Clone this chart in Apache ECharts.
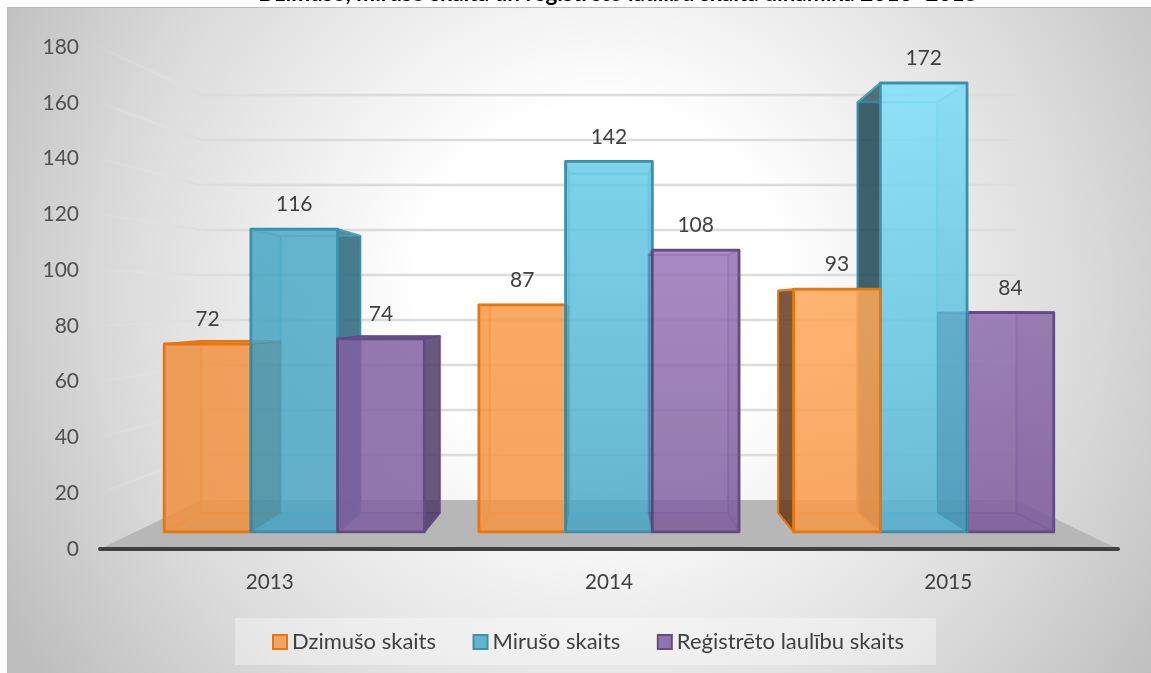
<!DOCTYPE html>
<html><head><meta charset="utf-8">
<style>html,body{margin:0;padding:0;background:#fff}#c{width:1151px;height:673px}</style>
<script src="https://cdn.jsdelivr.net/npm/echarts@6/dist/echarts.min.js"></script>
</head><body><div id="c"></div>
<script>
const titleText = 'Dzimušo, mirušo skaita un reģistrēto laulību skaita dinamika 2013–2015';
const years = ['2013','2014','2015'];
const births = [72,87,93];
const deaths = [116,142,172];
const marriages = [74,108,84];
const yTicks = [20,40,60,80,100,120,140,160,180];
const seriesNames = ['Dzimušo skaits','Mirušo skaits','Reģistrēto laulību skaits'];

const FONT = 'Lato';
const VX = 608.5;
const FRONT = {sx:.9275, sy:.936, ty:18.1};
const BACK  = {sx:.850,  sy:.8564, ty:42.8};
const WALL  = {sx:.8006, sy:.8068, ty:57.1};
const BAR_SHARE = 0.2755;
const RANK = [[1,2,3],[1,2,3],[3,2,1]];

const styles = [
 {line:'#E8760F', legend:'#F5A562', darkL:'rgba(100,60,30,.85)', darkR:null, top:'rgba(228,108,10,.75)', side:'rgba(120,60,0,.10)', over:'rgba(60,40,0,.13)',
  grad:[['#F3A35E','#F3A35E'],['#F9A963','#F6A560'],['#FEB572','#F9A862']]},
 {line:'#3D90A8', legend:'#62B3CC', darkL:'rgba(30,70,85,.85)', darkR:'rgba(50,110,130,.9)', top:'rgba(49,133,156,.7)', side:'rgba(0,50,70,.12)', over:null,
  grad:[['#66B6D0','#63B2CC'],['#7DD4EB','#65B3CD'],['#91E4FB','#6CBCD7']]},
 {line:'#634B85', legend:'#8F74AD', darkL:null, darkR:'rgba(80,60,105,.85)', top:'rgba(96,74,123,.8)', side:'rgba(50,20,80,.14)', over:'rgba(0,50,90,.17)',
  grad:[['#9379AF','#9278AD'],['#A88CC1','#9076AA'],['#9F84B9','#9074AA']]}
];

function P(c, off, pl){ return [VX + (c[0]+off-VX)*pl.sx, c[1]*pl.sy + pl.ty]; }
// fill colour that composites to the target hex over a white ground at the given alpha
function hexA(h,a){
  const n=parseInt(h.slice(1),16), f=x=>Math.max(0,Math.round((x-(1-a)*255)/a));
  return `rgba(${f(n>>16)},${f((n>>8)&255)},${f(n&255)},${a})`;
}

function barRenderer(k){
  const st = styles[k];
  return function(params, api){
    const i = api.value(0), v = api.value(1);
    const band = api.size([1,0])[0], w = band*BAR_SHARE;
    const cTop = api.coord([i,v]), cBot = api.coord([i,0]);
    const l = (k-1.5)*w, r = (k-.5)*w;
    const fTL=P(cTop,l,FRONT), fTR=P(cTop,r,FRONT), fBL=P(cBot,l,FRONT), fBR=P(cBot,r,FRONT);
    const bTL=P(cTop,l,BACK), bTR=P(cTop,r,BACK), bBL=P(cBot,l,BACK), bBR=P(cBot,r,BACK);
    const base = RANK[i][k]*10;
    let n = 0;
    const poly=(pts,fill,stroke,lw,z)=>({type:'polygon',z2:z==null?base+(n++):z,shape:{points:pts},style:{fill:fill,stroke:stroke||'none',lineWidth:lw||0,lineJoin:'round'}});
    const inner = 'rgba(' + (k==0?'240,130,40':k==1?'70,175,205':'115,90,150') + ',.45)';
    const lOut = bTL[0] < fTL[0], rOut = bTR[0] > fTR[0], topOut = bTL[1] < fTL[1];
    const kids = [];
    kids.push(poly([bTL,bTR,bBR,bBL],'rgba(0,0,0,0)',inner,2));
    kids.push(poly([fBL,fBR,bBR,bBL],st.side,inner,2));
    if (lOut && k===2) kids.push(poly([fTL,bTL,bBL,fBL],st.over,null,0,45));
    else kids.push(poly([fTL,bTL,bBL,fBL],lOut?st.darkL:st.side,lOut?st.line:inner,2));
    if (rOut && k===0) kids.push(poly([fTR,bTR,bBR,fBR],st.over,null,0,45));
    else kids.push(poly([fTR,bTR,bBR,fBR],rOut?st.darkR:st.side,rOut?st.line:inner,2));
    kids.push(poly([fTL,fTR,bTR,bTL],topOut?st.top:'rgba(255,255,255,.10)',topOut?st.line:inner,2));
    const [cA,cB] = st.grad[i];
    kids.push(poly([fTL,fTR,fBR,fBL],new echarts.graphic.LinearGradient(0,0,0,1,[{offset:0,color:hexA(cA,.86)},{offset:1,color:hexA(cB,.86)}]),st.line,2.8));
    kids.push({type:'text',z2:50,style:{text:String(v),x:(fTL[0]+fTR[0])/2,y:fTL[1]-24.5,align:'center',verticalAlign:'middle',
      fontFamily:FONT,fontSize:21,fill:'#404040'}});
    return {type:'group',children:kids};
  };
}

function wallRenderer(params, api){
  const cs = params.coordSys, v = api.value(1);
  const y0 = api.coord([0,v])[1];
  const a = [cs.x,y0];
  const b = P(a,0,WALL);
  const e = P([cs.x+cs.width,y0],0,WALL);
  const grad = new echarts.graphic.LinearGradient(a[0],0,b[0],0,[{offset:0,color:'rgba(232,232,232,.05)'},{offset:1,color:'#DCDCDC'}],true);
  return {type:'group',children:[
    {type:'line',shape:{x1:a[0],y1:a[1],x2:b[0],y2:b[1]},style:{stroke:grad,lineWidth:2}},
    {type:'line',shape:{x1:b[0],y1:b[1],x2:e[0],y2:e[1]},style:{stroke:'#DCDCDC',lineWidth:2.5}}
  ]};
}
function floorRenderer(params, api){
  const cs = params.coordSys;
  const c = api.coord([0,0])[1];
  const pA=[cs.x,c], pB=[cs.x+cs.width,c];
  return {type:'polygon',shape:{points:[pA,P(pA,0,WALL),P(pB,0,WALL),pB]},style:{fill:'#B7B7B7'}};
}

const mk = (name,vals,k)=>({name,type:'custom',coordinateSystem:'cartesian2d',z:5,
  renderItem:barRenderer(k),data:vals.map((v,i)=>[i,v]),encode:{x:0,y:1},
  itemStyle:{color:styles[k].legend,borderColor:styles[k].line,borderWidth:2}});

const chart = echarts.init(document.getElementById('c'),null,{renderer:'canvas'});
chart.setOption({
  animation:false,
  tooltip:{show:false},
  title:{text:titleText,left:618,textAlign:'center',top:-18,padding:0,
    textStyle:{fontFamily:FONT,fontWeight:'bold',fontSize:22.5,color:'#000'}},
  graphic:[
    {type:'rect',z:-10,silent:true,shape:{x:7.5,y:7.5,width:1150,height:672},
      style:{stroke:'#BBBBBB',lineWidth:1,
        fill:new echarts.graphic.RadialGradient(600,290,680,[
          {offset:0,color:'#FFFFFF'},{offset:.27,color:'#FFFFFF'},{offset:.44,color:'#F1F1F1'},
          {offset:.72,color:'#DADADA'},{offset:1,color:'#BEBEBE'}],true)}},
    {type:'rect',z:-9,silent:true,shape:{x:235,y:618,width:701,height:47},style:{fill:'rgba(255,255,255,.35)'}}
  ],
  legend:{left:267,top:626,itemWidth:14,itemHeight:14,itemGap:36.5,padding:5,icon:'rect',
    data:seriesNames,textStyle:{fontFamily:FONT,fontSize:22,color:'#404040'}},
  grid:{left:100,right:33,top:47,bottom:124},
  xAxis:{type:'category',data:years,axisTick:{show:false},z:10,
    axisLine:{show:true,lineStyle:{color:'#404040',width:4,cap:'round'}},
    axisLabel:{fontFamily:FONT,fontSize:20.7,color:'#404040',margin:23}},
  yAxis:{type:'value',min:0,max:180,interval:20,axisLine:{show:false},axisTick:{show:false},splitLine:{show:false},
    axisLabel:{fontFamily:FONT,fontSize:21,color:'#505050',margin:21,padding:[3,0,0,0]}},
  series:[
    {name:'floor',type:'custom',coordinateSystem:'cartesian2d',z:1,renderItem:floorRenderer,data:[[0,0]],encode:{x:0,y:1},silent:true},
    {name:'grid',type:'custom',coordinateSystem:'cartesian2d',z:2,renderItem:wallRenderer,data:yTicks.map(v=>[0,v]),encode:{x:0,y:1},silent:true},
    mk(seriesNames[0],births,0),mk(seriesNames[1],deaths,1),mk(seriesNames[2],marriages,2)
  ]
});
</script></body></html>
